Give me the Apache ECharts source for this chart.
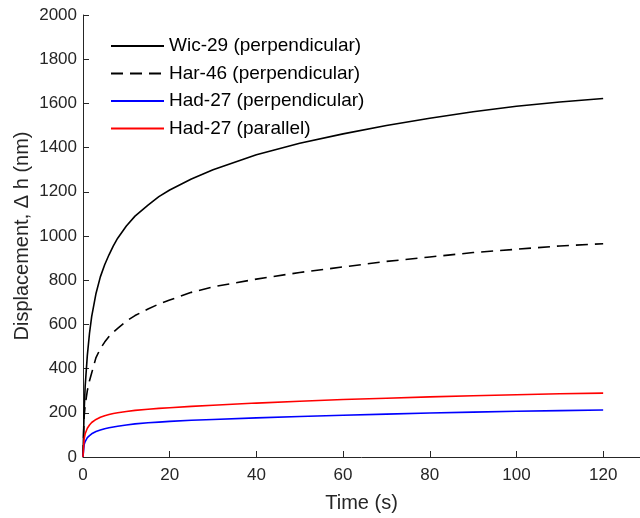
<!DOCTYPE html>
<html>
<head>
<meta charset="utf-8">
<script src="https://cdn.jsdelivr.net/npm/echarts@6/dist/echarts.min.js"></script>
<style>html,body{margin:0;padding:0;background:#fff}#chart{width:640px;height:518px}</style>
</head>
<body>
<div id="chart"></div>
<script>
// Time samples (s)
const timeS = [0, 0.25, 0.5, 1, 1.5, 2, 3, 4, 5, 6, 7, 8, 10, 12, 15, 17.5, 20, 25, 30, 40, 50, 60, 70, 80, 90, 100, 110, 120];
// Displacement (nm)
const wic29Perp = [0, 200, 320, 460, 560, 635, 740, 815, 870, 915, 955, 990, 1045, 1090, 1140, 1178, 1208, 1258, 1300, 1368, 1420, 1462, 1500, 1533, 1562, 1587, 1606, 1622];
const har46Perp = [0, 180, 235, 300, 345, 380, 450, 490, 520, 545, 565, 582, 615, 640, 670, 692, 710, 745, 770, 805, 835, 860, 885, 905, 925, 940, 955, 965];
const had27Perp = [0, 55, 70, 88, 97, 105, 115, 122, 128, 132, 136, 139, 145, 150, 155, 158, 161, 166, 170, 177, 183, 189, 194, 199, 203, 207, 210, 213];
const had27Par  = [0, 80, 105, 130, 145, 156, 170, 180, 187, 192, 197, 200, 206, 211, 216, 220, 223, 229, 234, 244, 252, 260, 266, 272, 277, 282, 286, 289];
const seriesNames = ['Wic-29 (perpendicular)', 'Har-46 (perpendicular)', 'Had-27 (perpendicular)', 'Had-27 (parallel)'];
const xTicks = [0, 20, 40, 60, 80, 100, 120];
const yTicks = [0, 200, 400, 600, 800, 1000, 1200, 1400, 1600, 1800, 2000];

const pair = (ys) => timeS.map((t, i) => [t, ys[i]]);
const axisColor = '#262626';
const font = 'Liberation Sans, Arial, sans-serif';

const chart = echarts.init(document.getElementById('chart'), null, {renderer: 'canvas'});
chart.setOption({
  animation: false,
  backgroundColor: '#fff',
  grid: {left: 83, right: 0, top: 15, bottom: 58, containLabel: false},
  legend: {
    orient: 'vertical', left: 110, top: 36, padding: 0,
    itemWidth: 53, itemHeight: 2, itemGap: 7.5,
    itemStyle: {opacity: 0},
    textStyle: {fontFamily: font, fontSize: 19, lineHeight: 20, color: '#000', padding: [0, 0, 0, 0]},
    data: seriesNames
  },
  xAxis: {
    type: 'value', min: 0, max: 128.5, interval: 20,
    name: 'Time (s)', nameLocation: 'middle', nameGap: 36,
    nameTextStyle: {fontFamily: font, fontSize: 20, color: axisColor},
    axisLine: {show: true, lineStyle: {color: axisColor, width: 1}},
    axisTick: {show: true, inside: true, length: 6, lineStyle: {color: axisColor}},
    axisLabel: {fontFamily: font, fontSize: 17, color: axisColor, margin: 10, showMaxLabel: false,
      formatter: (v) => xTicks.includes(v) ? String(v) : ''},
    splitLine: {show: false}
  },
  yAxis: {
    type: 'value', min: 0, max: 2000, interval: 200,
    name: 'Displacement, Δ h (nm)', nameLocation: 'middle', nameGap: 51, nameMoveOverlap: false,
    nameTextStyle: {fontFamily: font, fontSize: 20, color: axisColor},
    axisLine: {show: true, lineStyle: {color: axisColor, width: 1}},
    axisTick: {show: true, inside: true, length: 6, lineStyle: {color: axisColor}},
    axisLabel: {fontFamily: font, fontSize: 17, color: axisColor, margin: 6,
      formatter: (v) => yTicks.includes(v) ? String(v) : ''},
    splitLine: {show: false}
  },
  series: [
    {name: seriesNames[0], type: 'line', data: pair(wic29Perp), symbol: 'none', smooth: false,
     lineStyle: {color: '#000', width: 1.6}, itemStyle: {color: '#000'}},
    {name: seriesNames[1], type: 'line', data: pair(har46Perp), symbol: 'none', smooth: false,
     lineStyle: {color: '#000', width: 1.6, type: [12, 7]}, itemStyle: {color: '#000'}},
    {name: seriesNames[2], type: 'line', data: pair(had27Perp), symbol: 'none', smooth: false,
     lineStyle: {color: '#0000ff', width: 1.6}, itemStyle: {color: '#0000ff'}},
    {name: seriesNames[3], type: 'line', data: pair(had27Par), symbol: 'none', smooth: false,
     lineStyle: {color: '#ff0000', width: 1.6}, itemStyle: {color: '#ff0000'}}
  ]
});
</script>
</body>
</html>
